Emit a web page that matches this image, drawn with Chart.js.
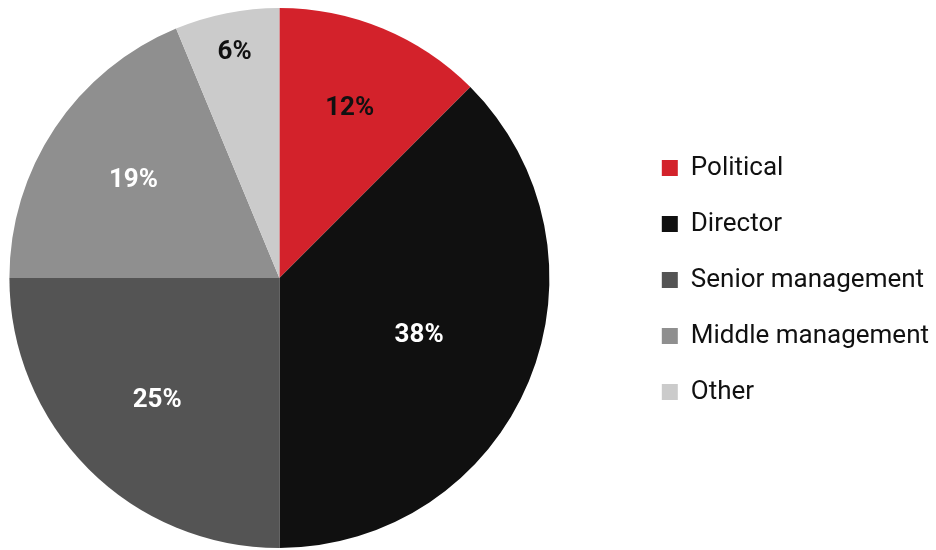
<!DOCTYPE html>
<html>
<head>
<meta charset="utf-8">
<script src="https://cdn.jsdelivr.net/npm/chart.js@4"></script>
<style>
  html, body { margin: 0; padding: 0; background: #fff; }
  #wrap { width: 936px; height: 550px; }
</style>
</head>
<body>
<div id="wrap"><canvas id="pieChart"></canvas></div>
<script>
// respondents by role (count out of 16)
const roles = ["Political", "Director", "Senior management", "Middle management", "Other"];
const counts = [2, 6, 4, 3, 1];
const pctLabels = ["12%", "38%", "25%", "19%", "6%"];
const sliceColors = ["#d3222b", "#101010", "#545454", "#8f8f8f", "#cbcbcb"];
const labelColors = ["#111111", "#ffffff", "#ffffff", "#ffffff", "#111111"];
// how far out along the radius each label sits
const labelRadius = [0.68, 0.56, 0.64, 0.65, 0.85];

// draw the percentage labels on top of the slices
const sliceLabels = {
  id: "sliceLabels",
  afterDatasetsDraw(chart) {
    const ctx = chart.ctx;
    const arcs = chart.getDatasetMeta(0).data;
    ctx.save();
    ctx.font = "bold 26px Roboto";
    ctx.textAlign = "center";
    ctx.textBaseline = "middle";
    arcs.forEach((arc, i) => {
      const p = arc.getProps(["x", "y", "startAngle", "endAngle", "outerRadius"]);
      const mid = (p.startAngle + p.endAngle) / 2;
      const r = p.outerRadius * labelRadius[i];
      ctx.fillStyle = labelColors[i];
      ctx.fillText(pctLabels[i], p.x + Math.cos(mid) * r, p.y + Math.sin(mid) * r);
    });
    ctx.restore();
  },
};

// reserve more room for the legend so the pie sits further left,
// then slide the legend items back to the right
const legendGap = 70;
const legendShift = {
  id: "legendShift",
  beforeLayout(chart) {
    const legend = chart.legend;
    if (legend && !legend._widened) {
      const fit = legend.fit;
      legend.fit = function () {
        fit.call(this);
        this.width += legendGap;
      };
      legend._widened = true;
    }
  },
  afterLayout(chart) {
    const legend = chart.legend;
    legend.left += legendGap + 3;
    legend.right += legendGap + 3;
    legend.top += 2;
    legend.bottom += 2;
  },
};

const pieCtx = document.getElementById("pieChart");
const pieChart = new Chart(pieCtx, {
  type: "pie",
  data: {
    labels: roles,
    datasets: [
      {
        data: counts,
        backgroundColor: sliceColors,
        borderWidth: 0,
      },
    ],
  },
  options: {
    responsive: true,
    maintainAspectRatio: false,
    animation: false,
    layout: {
      padding: { left: 0, top: 8, bottom: 2, right: 0 },
    },
    plugins: {
      tooltip: { enabled: false },
      legend: {
        position: "right",
        labels: {
          font: { family: "Roboto", size: 26 },
          color: "#111111",
          boxWidth: 16,
          boxHeight: 16,
          padding: 30,
        },
      },
    },
  },
  plugins: [sliceLabels, legendShift],
});
</script>
</body>
</html>
